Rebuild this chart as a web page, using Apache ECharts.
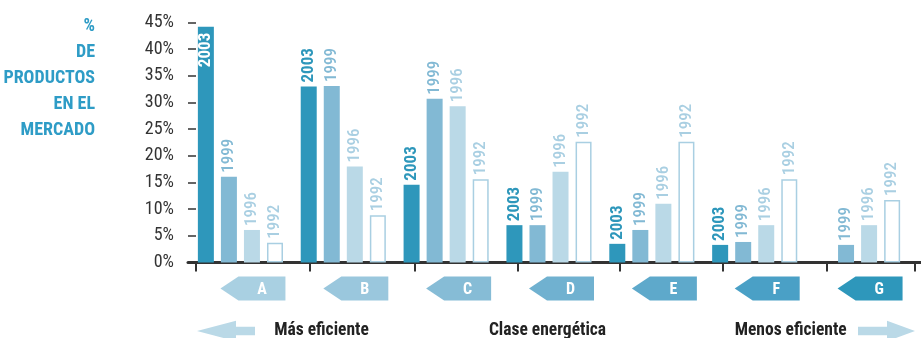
<!DOCTYPE html>
<html>
<head>
<meta charset="utf-8">
<script src="https://cdn.jsdelivr.net/npm/echarts@6/dist/echarts.min.js"></script>
<style>
html,body{margin:0;padding:0;background:#fff;}
#chart{width:921px;height:338px;}
</style>
</head>
<body>
<div id="chart"></div>
<script>
// ---- data ----
const categories = ['A', 'B', 'C', 'D', 'E', 'F', 'G'];
const years = ['2003', '1999', '1996', '1992'];
const values2003 = [44.2, 33.0, 14.6, 7.0, 3.5, 3.3, null];
const values1999 = [16.1, 33.1, 30.7, 7.0, 6.1, 3.85, 3.3];
const values1996 = [6.1, 18.0, 29.3, 17.0, 11.0, 7.0, 7.0];
const values1992 = [3.7, 8.85, 15.6, 22.65, 22.65, 15.6, 11.7];
const yTicks = [0, 5, 10, 15, 20, 25, 30, 35, 40, 45];
const tickPositions = [0.08, 1.18, 2.2, 3.2, 4.19, 5.19, 6.2, 7.06];
const axisTitle = '%\nDE\nPRODUCTOS\nEN EL\nMERCADO';
const footLeft = 'Más eficiente';
const footMid = 'Clase energética';
const footRight = 'Menos eficiente';

// ---- styles ----
const FONT = "'Roboto Condensed','DejaVu Sans Condensed',sans-serif";
const barColors = ['#2e97bb', '#82b9d4', '#bad9e7', '#ffffff'];
const labelColors = ['#2e97bb', '#82b9d4', '#a9cfe2', '#a9cfe2'];
const arrowColors = ['#a9d0e2', '#9ac7dd', '#86bcd6', '#70b1d0', '#5ea9cb', '#4aa0c6', '#2e97bb'];

const allValues = [values2003, values1999, values1996, values1992];

function makeSeries(idx) {
  const vals = allValues[idx];
  const data = vals.map((v, i) => {
    if (idx === 0 && i === 0) {
      return {
        value: v,
        label: {
          position: 'insideTop', align: 'right', verticalAlign: 'middle',
          distance: 6, color: '#ffffff'
        }
      };
    }
    return v;
  });
  return {
    type: 'bar',
    name: years[idx],
    xAxisIndex: 0,
    yAxisIndex: 0,
    data: data,
    barWidth: 16,
    barGap: '44%',
    itemStyle: idx === 3
      ? { color: barColors[3], borderColor: '#a9cfe2', borderWidth: 1.5 }
      : { color: barColors[idx] },
    label: {
      show: true,
      formatter: years[idx],
      position: 'top',
      rotate: 90,
      align: 'left',
      verticalAlign: 'middle',
      distance: 4,
      fontFamily: FONT,
      fontSize: 17,
      fontWeight: idx === 0 ? 'bold' : 500,
      color: labelColors[idx]
    },
    emphasis: { disabled: true },
    silent: true,
    z: 2
  };
}

const series = [0, 1, 2, 3].map(makeSeries);

series.push({
  type: 'custom',
  xAxisIndex: 0,
  yAxisIndex: 0,
  clip: false,
  silent: true,
  data: categories.map((c, i) => [i, 0]),
  encode: { x: 0, y: 1 },
  renderItem: function (params, api) {
    const p = api.coord([api.value(0), 0]);
    const cx = p[0], y0 = p[1];
    const tip = cx - 20, base = tip + 18, right = cx + 45;
    const top = y0 + 14, bottom = y0 + 38, mid = (top + bottom) / 2;
    return {
      type: 'group',
      children: [
        {
          type: 'polygon',
          shape: { points: [[tip, mid], [base, top], [right, top], [right, bottom], [base, bottom]] },
          style: { fill: arrowColors[params.dataIndex] }
        },
        {
          type: 'text',
          style: {
            text: categories[params.dataIndex],
            x: (base + right) / 2, y: mid + 1,
            align: 'center', verticalAlign: 'middle',
            fill: '#ffffff', font: 'bold 16px ' + FONT
          }
        }
      ]
    };
  }
});

const chart = echarts.init(document.getElementById('chart'), null, { renderer: 'canvas' });
chart.setOption({
  animation: false,
  backgroundColor: '#ffffff',
  grid: [
    { left: 189, width: 720, top: 22.5, bottom: 75.5 },
    { left: 188, right: 0, top: 22.5, bottom: 75.5 }
  ],
  xAxis: [
    { type: 'category', gridIndex: 0, data: categories, show: false },
    {
      type: 'value', gridIndex: 1, min: 0, max: 7.12,
      axisLine: { show: true, lineStyle: { color: '#333333', width: 3 } },
      axisTick: { show: true, customValues: tickPositions, length: 9, lineStyle: { color: '#333333', width: 2 } },
      axisLabel: { show: false },
      splitLine: { show: false }
    }
  ],
  yAxis: [
    { type: 'value', gridIndex: 0, min: 0, max: 45, show: false },
    {
      type: 'value', gridIndex: 1, min: 0, max: 45, interval: 5,
      axisLine: { show: false },
      axisTick: { show: true, inside: true, length: 8, lineStyle: { color: '#333333', width: 1.5 } },
      axisLabel: {
        margin: 14, color: '#333333', fontFamily: FONT, fontSize: 18,
        formatter: function (v) { return yTicks.indexOf(v) >= 0 ? v + '%' : ''; }
      },
      splitLine: { show: false }
    }
  ],
  graphic: [
    {
      type: 'text', x: 95, y: 13, silent: true,
      style: {
        text: axisTitle, align: 'right', verticalAlign: 'top',
        lineHeight: 26, fill: '#2e9cc6', font: 'bold 18px ' + FONT
      }
    },
    {
      type: 'polygon', silent: true,
      shape: { points: [[197, 331], [236, 320.7], [236, 326.7], [255, 326.7], [255, 335.3], [236, 335.3], [236, 341.3]] },
      style: { fill: '#bad9e7' }
    },
    {
      type: 'polygon', silent: true,
      shape: { points: [[915, 331], [887, 320.7], [887, 326.7], [858, 326.7], [858, 335.3], [887, 335.3], [887, 341.3]] },
      style: { fill: '#bad9e7' }
    },
    {
      type: 'text', x: 321.5, y: 331, silent: true,
      style: { text: footLeft, align: 'center', verticalAlign: 'middle', fill: '#222222', font: 'bold 17.5px ' + FONT }
    },
    {
      type: 'text', x: 547.5, y: 331, silent: true,
      style: { text: footMid, align: 'center', verticalAlign: 'middle', fill: '#222222', font: 'bold 17.5px ' + FONT }
    },
    {
      type: 'text', x: 790.7, y: 331, silent: true,
      style: { text: footRight, align: 'center', verticalAlign: 'middle', fill: '#222222', font: 'bold 17.5px ' + FONT }
    }
  ],
  series: series
});
</script>
</body>
</html>
